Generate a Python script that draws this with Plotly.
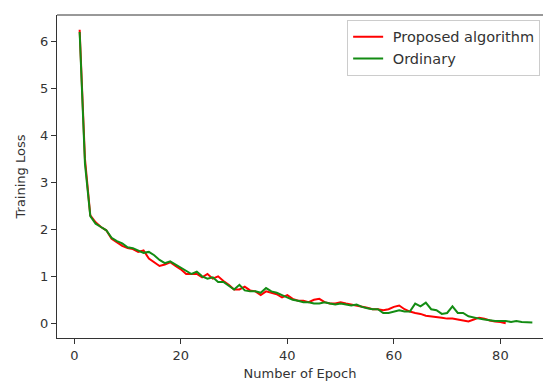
import plotly.graph_objects as go

epochs_proposed = list(range(1, 82))
loss_proposed = [6.25, 3.5, 2.3, 2.15, 2.05, 1.98, 1.8, 1.72, 1.65, 1.6,
                 1.58, 1.52, 1.55, 1.38, 1.3, 1.22, 1.25, 1.3, 1.22, 1.15,
                 1.05, 1.05, 1.05, 0.98, 1.05, 0.95, 1.0, 0.9, 0.82, 0.72,
                 0.72, 0.78, 0.7, 0.68, 0.6, 0.68, 0.65, 0.62, 0.55, 0.6,
                 0.52, 0.48, 0.48, 0.45, 0.5, 0.52, 0.45, 0.42, 0.42, 0.45,
                 0.42, 0.4, 0.38, 0.35, 0.33, 0.3, 0.3, 0.28, 0.3, 0.35,
                 0.38, 0.3, 0.25, 0.22, 0.2, 0.16, 0.15, 0.13, 0.12, 0.1,
                 0.1, 0.08, 0.06, 0.04, 0.08, 0.12, 0.1, 0.06, 0.04, 0.03,
                 0.0]

epochs_ordinary = list(range(1, 87))
loss_ordinary = [6.2, 3.4, 2.28, 2.12, 2.05, 1.98, 1.82, 1.75, 1.7, 1.62,
                 1.6, 1.55, 1.5, 1.52, 1.45, 1.35, 1.28, 1.32, 1.25, 1.18,
                 1.12, 1.05, 1.1, 1.0, 0.95, 0.98, 0.88, 0.88, 0.8, 0.72,
                 0.82, 0.7, 0.68, 0.68, 0.65, 0.75, 0.68, 0.65, 0.6, 0.55,
                 0.5, 0.48, 0.45, 0.45, 0.42, 0.42, 0.45, 0.42, 0.4, 0.42,
                 0.4, 0.38, 0.4, 0.35, 0.32, 0.3, 0.3, 0.22, 0.22, 0.25,
                 0.28, 0.25, 0.25, 0.42, 0.36, 0.44, 0.3, 0.28, 0.2, 0.22,
                 0.36, 0.22, 0.22, 0.15, 0.12, 0.1, 0.08, 0.06, 0.05, 0.05,
                 0.05, 0.03, 0.05, 0.03, 0.03, 0.02]

series_names = ["Proposed algorithm", "Ordinary"]
x_ticks = [0, 20, 40, 60, 80]
y_ticks = [0, 1, 2, 3, 4, 5, 6]

fig = go.Figure()
fig.add_trace(go.Scatter(x=epochs_proposed, y=loss_proposed, mode="lines",
                         name="\u00a0" + series_names[0],
                         line=dict(color="#ff0000", width=2)))
fig.add_trace(go.Scatter(x=epochs_ordinary, y=loss_ordinary, mode="lines",
                         name="\u00a0" + series_names[1],
                         line=dict(color="#138c13", width=2)))

axis_common = dict(showgrid=False, zeroline=False, showline=True,
                   linecolor="#333333", linewidth=1, ticks="outside",
                   ticklen=5, tickcolor="#333333", automargin=False,
                   tickfont=dict(family="DejaVu Sans", size=13, color="#333333"))

fig.update_layout(
    width=543, height=383,
    margin=dict(l=57, r=0, t=15, b=45),
    paper_bgcolor="white", plot_bgcolor="white",
    font=dict(family="DejaVu Sans", size=13, color="#333333"),
    xaxis=dict(range=[-3.25, 88.0], tickvals=x_ticks, mirror=False,
               title=dict(text="Number of Epoch", standoff=7,
                          font=dict(size=13)), **axis_common),
    yaxis=dict(range=[-0.3125, 6.5625], tickvals=y_ticks,
               title=dict(text="Training Loss", standoff=11,
                          font=dict(size=13)), **axis_common),
    legend=dict(x=0.597, y=0.985, xanchor="left", yanchor="top",
                bgcolor="rgba(255,255,255,0.8)", bordercolor="#cccccc",
                borderwidth=1, font=dict(family="DejaVu Sans", size=14.5,
                                         color="#333333")),
    showlegend=True,
)
# top spine
fig.add_shape(type="line", xref="paper", yref="paper", x0=0, x1=1, y0=1, y1=1,
              line=dict(color="#333333", width=1))

fig.write_html("out.html", config={"displayModeBar": False},
               post_script="document.body.style.margin='0';document.body.style.overflow='hidden';")
